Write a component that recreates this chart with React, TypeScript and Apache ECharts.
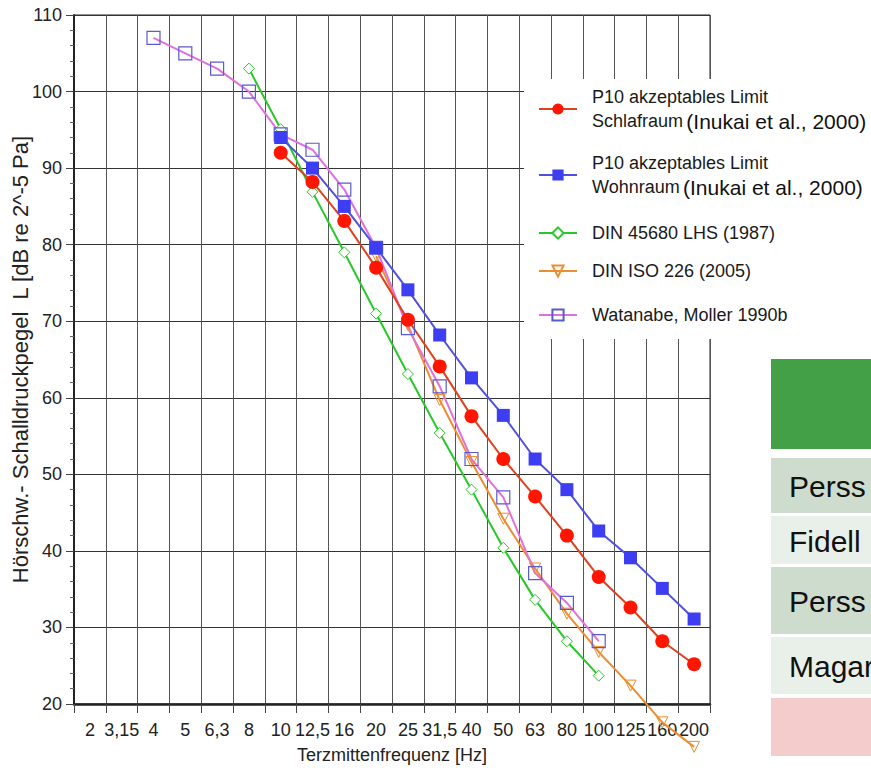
import React, { useEffect, useRef } from 'react';
import * as echarts from 'echarts';

const categories = ['2', '3,15', '4', '5', '6,3', '8', '10', '12,5', '16', '20', '25', '31,5', '40', '50', '63', '80', '100', '125', '160', '200'];

const schlafraum = [null, null, null, null, null, null, 92, 88.2, 83.1, 77, 70.2, 64.1, 57.6, 52, 47.1, 42, 36.6, 32.6, 28.2, 25.2];
const wohnraum = [null, null, null, null, null, null, 94, 90, 85, 79.6, 74.1, 68.2, 62.6, 57.7, 52, 48, 42.6, 39.1, 35.1, 31.1];
const din45680 = [null, null, null, null, null, 103, 95.1, 86.9, 79, 71, 63.1, 55.4, 48, 40.4, 33.6, 28.2, 23.7, null, null, null];
const iso226 = [null, null, null, null, null, null, null, null, null, 78.5, 69.5, 59.7, 51.6, 44.2, 37.7, 31.8, 26.8, 22.4, 17.6, 14.4];
const watanabe = [null, null, 107, 105, 103, 100, 94.4, 92.4, 87.2, 79.6, 69.1, 61.5, 52, 47, 37.1, 33.2, 28.2, null, null, null];

const seriesNames = [
  'P10 akzeptables Limit Schlafraum (Inukai et al., 2000)',
  'P10 akzeptables Limit Wohnraum (Inukai et al., 2000)',
  'DIN 45680 LHS (1987)',
  'DIN ISO 226 (2005)',
  'Watanabe, Moller 1990b',
];

const tableRows = ['Perss', 'Fidell', 'Perss', 'Magar'];

const ARIAL = "'Liberation Sans', Arial, sans-serif";

export default function App() {
  const ref = useRef<HTMLDivElement>(null);
  useEffect(() => {
    if (!ref.current) return;
    const chart = echarts.init(ref.current, null, { renderer: 'svg' });

    const rich = {
      a: { fontFamily: ARIAL, fontSize: 18, color: '#1a1a1a', lineHeight: 24 },
      b: { fontFamily: ARIAL, fontSize: 21, color: '#111', lineHeight: 24 },
    };
    const legendBase = {
      left: 533,
      itemWidth: 38,
      itemHeight: 14,
      itemGap: 0,
      orient: 'vertical',
      z: 5,
      textStyle: { padding: [0, 0, 0, 10], rich },
    };

    const option: any = {
      animation: false,
      backgroundColor: '#fff',
      grid: {
        left: 74, right: 161, top: 15, bottom: 64,
        outerBoundsMode: 'none',
        containLabel: false,
        show: true, borderColor: '#222', borderWidth: 1, backgroundColor: 'transparent',
      },
      legend: [
        { ...legendBase, top: 83, data: [seriesNames[0]], formatter: () => '{a|P10 akzeptables Limit}\n{a|Schlafraum} {b|(Inukai et al., 2000)}' },
        { ...legendBase, top: 149, data: [seriesNames[1]], formatter: () => '{a|P10 akzeptables Limit}\n{a|Wohnraum} {b|(Inukai et al., 2000)}' },
        { ...legendBase, top: 219, data: [seriesNames[2]], formatter: (n: string) => '{a|' + n + '}' },
        { ...legendBase, top: 257, data: [seriesNames[3]], formatter: (n: string) => '{a|' + n + '}' },
        { ...legendBase, top: 301, data: [seriesNames[4]], formatter: (n: string) => '{a|' + n + '}' },
      ],
      xAxis: {
        type: 'category',
        data: categories,
        boundaryGap: true,
        name: 'Terzmittenfrequenz [Hz]',
        nameLocation: 'middle',
        nameGap: 42,
        nameMoveOverlap: false,
        nameTextStyle: { fontFamily: ARIAL, fontSize: 18, color: '#222' },
        axisLine: { lineStyle: { color: '#222', width: 2.5 } },
        axisTick: { show: true, length: 9, interval: 0, lineStyle: { color: '#444' } },
        axisLabel: { interval: 0, margin: 17, fontFamily: ARIAL, fontSize: 18, color: '#222' },
        splitLine: { show: true, interval: 0, lineStyle: { color: '#555', width: 1 } },
      },
      yAxis: {
        type: 'value',
        min: 20,
        max: 110,
        interval: 10,
        name: 'Hörschw.- Schalldruckpegel  L [dB re 2^-5 Pa]',
        nameLocation: 'middle',
        nameGap: 43,
        nameMoveOverlap: false,
        nameTextStyle: { fontFamily: ARIAL, fontSize: 22, color: '#222' },
        axisLine: { show: true, lineStyle: { color: '#222', width: 2 } },
        axisTick: { show: true, length: 8, lineStyle: { color: '#444' } },
        minorTick: { show: true, splitNumber: 5, length: 4, lineStyle: { color: '#666' } },
        axisLabel: { margin: 12, fontFamily: ARIAL, fontSize: 18, color: '#222' },
        splitLine: { show: true, lineStyle: { color: '#333', width: 1 } },
      },
      graphic: [
        { type: 'rect', z: 3, shape: { x: 524, y: 79, width: 360, height: 260 }, style: { fill: '#fff' } },
        { type: 'rect', z: 3, shape: { x: 771, y: 359, width: 110, height: 90 }, style: { fill: '#43a047' } },
        { type: 'rect', z: 3, shape: { x: 771, y: 458, width: 110, height: 55 }, style: { fill: '#cddccd' } },
        { type: 'rect', z: 3, shape: { x: 771, y: 516, width: 110, height: 48 }, style: { fill: '#e9f0e9' } },
        { type: 'rect', z: 3, shape: { x: 771, y: 567, width: 110, height: 67 }, style: { fill: '#cddccd' } },
        { type: 'rect', z: 3, shape: { x: 771, y: 637, width: 110, height: 57 }, style: { fill: '#e9f0e9' } },
        { type: 'rect', z: 3, shape: { x: 771, y: 698, width: 110, height: 58 }, style: { fill: '#f4cccc' } },
        ...tableRows.map((t, i) => ({
          type: 'text', z: 4,
          x: 789, y: [486, 541, 601, 666][i],
          style: { text: t, font: '30px ' + ARIAL, fill: '#111', verticalAlign: 'middle' },
        })),
      ],
      series: [
        {
          name: seriesNames[2], type: 'line', data: din45680,
          symbol: 'diamond', symbolSize: 11,
          lineStyle: { color: '#28c828', width: 2 },
          itemStyle: { color: '#fff', borderColor: '#28c828', borderWidth: 1 },
        },
        {
          name: seriesNames[3], type: 'line', data: iso226, clip: false,
          symbol: 'triangle', symbolRotate: 180, symbolSize: 11,
          lineStyle: { color: '#ee8c30', width: 2 },
          itemStyle: { color: 'rgba(255,255,255,0)', borderColor: '#ee8c30', borderWidth: 1 },
        },
        {
          name: seriesNames[4], type: 'line', data: watanabe,
          symbol: 'rect', symbolSize: 13,
          lineStyle: { color: '#e070e0', width: 2 },
          itemStyle: { color: 'rgba(255,255,255,0)', borderColor: '#5a5ad0', borderWidth: 1.2 },
        },
        {
          name: seriesNames[1], type: 'line', data: wohnraum,
          symbol: 'rect', symbolSize: 13,
          lineStyle: { color: '#5050e0', width: 2 },
          itemStyle: { color: '#3d3df2' },
        },
        {
          name: seriesNames[0], type: 'line', data: schlafraum,
          symbol: 'circle', symbolSize: 14,
          lineStyle: { color: '#e0401e', width: 2 },
          itemStyle: { color: '#ff1500' },
        },
      ],
    };
    chart.setOption(option);
    return () => chart.dispose();
  }, []);
  return <div ref={ref} style={{ position: 'absolute', left: 0, top: 0, width: 871, height: 768 }} />;
}
